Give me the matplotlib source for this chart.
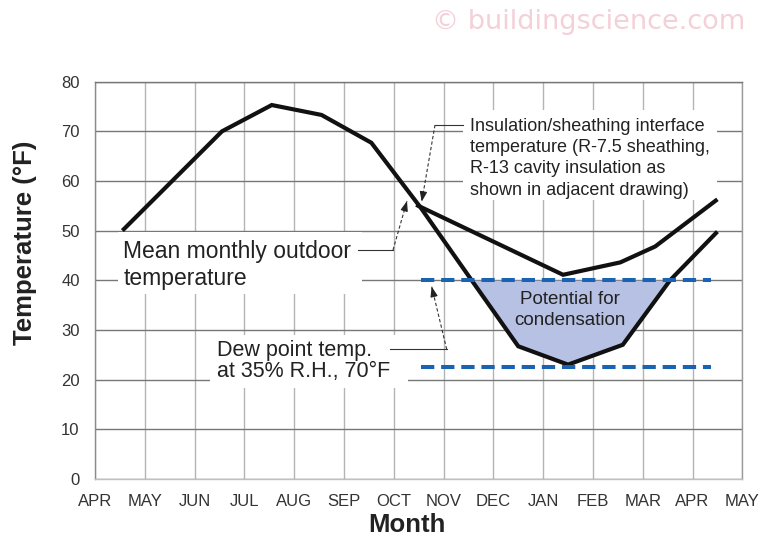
import numpy as np
import matplotlib
matplotlib.use('Agg')
import matplotlib.pyplot as plt
from matplotlib.patches import Rectangle

plt.rcParams['font.family'] = ['Liberation Sans', 'DejaVu Sans']

# ---------------- data ----------------
month_labels = ['APR', 'MAY', 'JUN', 'JUL', 'AUG', 'SEP', 'OCT', 'NOV',
                'DEC', 'JAN', 'FEB', 'MAR', 'APR', 'MAY']
y_ticks = [0, 10, 20, 30, 40, 50, 60, 70, 80]

# mean monthly outdoor temperature (x = months after first APR)
outdoor_x = [0.55, 1.55, 2.55, 3.55, 4.55, 5.55, 6.55, 7.55, 8.5, 9.5, 10.6, 11.55, 12.5]
outdoor_t = [50.0, 60.0, 70.0, 75.3, 73.3, 67.7, 54.5, 40.2, 26.7, 23.0, 27.0, 40.0, 49.8]

# insulation/sheathing interface temperature
interface_x = [6.45, 9.4, 10.55, 11.25, 12.5]
interface_t = [55.2, 41.1, 43.6, 46.8, 56.3]

# dew point lines
dew_x = [6.55, 12.38]
dew_upper = 40.0
dew_lower = 22.5

# ---------------- figure ----------------
W, H = 769, 537
fig = plt.figure(figsize=(W / 100, H / 100), dpi=100)
AX_L, AX_R, AX_T, AX_B = 95.0, 742.3, 81.7, 478.8
ax = fig.add_axes([AX_L / W, 1 - AX_B / H, (AX_R - AX_L) / W, (AX_B - AX_T) / H])
ax.set_xlim(0, 13)
ax.set_ylim(0, 80)


def dx(p):  # pixel x -> data
    return (p - AX_L) / (AX_R - AX_L) * 13


def dy(p):  # pixel y -> data
    return (AX_B - p) / (AX_B - AX_T) * 80


ax.set_xticks(range(len(month_labels)))
ax.set_xticklabels(month_labels)
ax.set_yticks(y_ticks)
ax.tick_params(axis='both', length=0, labelsize=12, labelcolor='#333333')
ax.tick_params(axis='x', pad=11)
ax.tick_params(axis='y', pad=11)

ax.set_axisbelow(True)
ax.yaxis.grid(True, color='#777777', lw=1.0)
ax.xaxis.grid(True, color='#b4b4b4', lw=1.0)
ax.spines['top'].set_color('#777777')
ax.spines['left'].set_color('#8a8a8a')
ax.spines['right'].set_color('#9a9a9a')
ax.spines['bottom'].set_color('#c0c0c0')
for s in ax.spines.values():
    s.set_linewidth(1.0)

# white boxes behind annotations (hide grid)
def white_box(x0, y0, x1, y1):
    ax.add_patch(Rectangle((dx(x0), dy(y1)), dx(x1) - dx(x0), dy(y0) - dy(y1),
                           facecolor='white', edgecolor='none', zorder=1))

white_box(118, 232, 361.7, 294)     # mean monthly
white_box(463, 110, 717, 200)       # insulation
white_box(210, 335, 408.3, 388)     # dew point

# condensation fill
ox = np.array(outdoor_x)
ot = np.array(outdoor_t)
ax.fill_between(ox, ot, dew_upper, where=ot <= dew_upper, interpolate=True,
                color='#b6c1e4', lw=0, zorder=2)

# curves
ax.plot(outdoor_x, outdoor_t, color='#111111', lw=3.0, solid_joinstyle='miter',
        solid_capstyle='butt', zorder=3)
ax.plot(interface_x, interface_t, color='#111111', lw=3.0, solid_joinstyle='miter',
        solid_capstyle='butt', zorder=3)

# dew point dashed lines
for yv in (dew_upper, dew_lower):
    ax.plot(dew_x, [yv, yv], color='#1a63b3', lw=2.9, dashes=(3.3, 1.7),
            dash_capstyle='butt', zorder=4)

# texts
txt_color = '#222222'
ax.text(dx(123.3), dy(265), 'Mean monthly outdoor\ntemperature', ha='left', va='center',
        fontsize=16.5, color=txt_color, linespacing=1.22, zorder=5)
ax.text(dx(470), dy(158.3), 'Insulation/sheathing interface\ntemperature (R-7.5 sheathing,\n'
        'R-13 cavity insulation as\nshown in adjacent drawing)', ha='left', va='center',
        fontsize=13, color=txt_color, linespacing=1.33, zorder=5)
ax.text(dx(216.7), dy(361), 'Dew point temp.\nat 35% R.H., 70°F', ha='left', va='center',
        fontsize=15.5, color=txt_color, linespacing=1.03, zorder=5)
ax.text(dx(570), dy(309.7), 'Potential for\ncondensation', ha='center', va='center',
        fontsize=13.5, color=txt_color, linespacing=1.28, zorder=5)

# leaders
def solid(p0, p1):
    ax.plot([dx(p0[0]), dx(p1[0])], [dy(p0[1]), dy(p1[1])], color='#333333', lw=0.8,
            zorder=5)


def dashed_arrow(p0, tip):
    ax.plot([dx(p0[0]), dx(tip[0])], [dy(p0[1]), dy(tip[1])], color='#333333', lw=0.8,
            linestyle=(0, (3, 2)), zorder=5)
    v = np.array(tip) - np.array(p0)
    v = v / np.hypot(*v)
    back = np.array(tip) - v * 8
    ax.annotate('', xy=(dx(tip[0]), dy(tip[1])), xytext=(dx(back[0]), dy(back[1])),
                arrowprops=dict(arrowstyle='-|>,head_length=0.6,head_width=0.22',
                                color='#222222', lw=0.8, shrinkA=0, shrinkB=0),
                zorder=6)


solid((358, 250), (393, 250))
dashed_arrow((393, 250), (407, 201))
solid((435, 125), (463.3, 125))
dashed_arrow((435, 125), (421.7, 201.7))
solid((390, 349.3), (446.7, 349.3))
dashed_arrow((446.7, 349.3), (431.7, 286.7))

# axis titles
fig.text(407 / W, 1 - 525 / H, 'Month', ha='center', va='center', fontsize=18.5,
         fontweight='bold', color='#222222')
fig.text(25 / W, 1 - 242.5 / H, 'Temperature (°F)', ha='center', va='center',
         rotation=90, fontsize=18.5, fontweight='bold', color='#222222')

# watermark
fig.text(589 / W, 1 - 21.7 / H, '© buildingscience.com', ha='center', va='center',
         fontsize=19.5, color='#f4d0d9', family='DejaVu Sans')

fig.savefig('out.png', dpi=100, facecolor='white')
